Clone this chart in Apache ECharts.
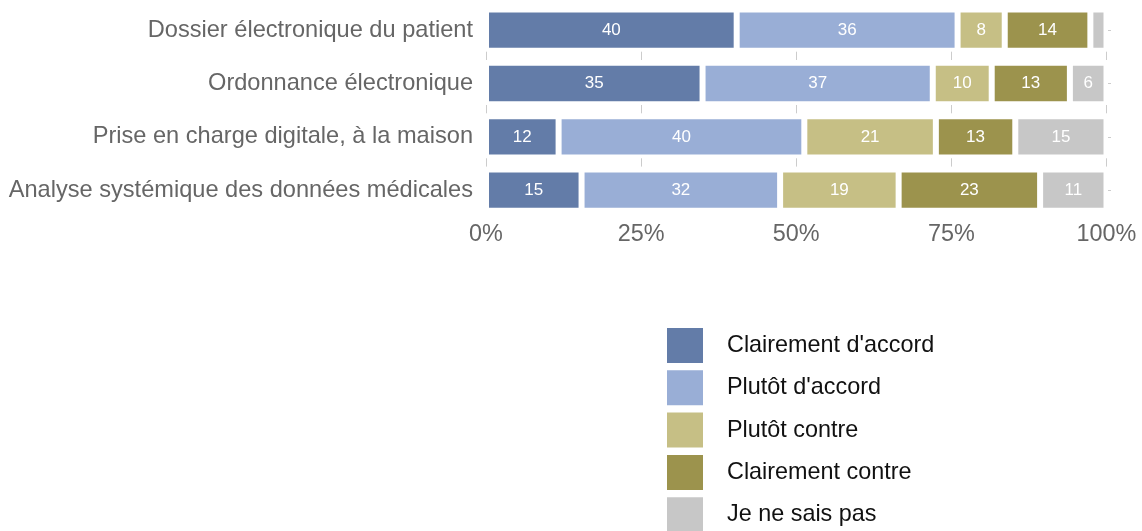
<!DOCTYPE html>
<html>
<head>
<meta charset="utf-8">
<script src="https://cdn.jsdelivr.net/npm/echarts@6/dist/echarts.min.js"></script>
<style>
  html, body { margin: 0; padding: 0; background: #fff; }
  #chart { width: 1142px; height: 531px; }
</style>
</head>
<body>
<div id="chart"></div>
<script>
const categories = [
  "Dossier électronique du patient",
  "Ordonnance électronique",
  "Prise en charge digitale, à la maison",
  "Analyse systémique des données médicales",
];
const seriesNames = [
  "Clairement d'accord",
  "Plutôt d'accord",
  "Plutôt contre",
  "Clairement contre",
  "Je ne sais pas",
];
// parts en % (une valeur par catégorie)
const clairementAccord = [40.4, 34.9, 11.7, 15.4];
const plutotAccord = [35.6, 37.1, 39.6, 32.0];
const plutotContre = [7.6, 9.5, 21.2, 19.1];
const clairementContre = [13.8, 12.6, 12.8, 22.8];
const neSaisPas = [2.6, 5.9, 14.7, 10.7];
const xTicks = [0, 25, 50, 75, 100];

const colors = ["#637ca8", "#99aed6", "#c6bf85", "#9c934d", "#c7c7c7"];
const font = "'Liberation Sans', Arial, Helvetica, sans-serif";
const values = [clairementAccord, plutotAccord, plutotContre, clairementContre, neSaisPas];

const chart = echarts.init(document.getElementById("chart"));

chart.setOption({
  backgroundColor: "#fff",
  animation: false,
  textStyle: { fontFamily: font },
  grid: { left: 486, right: 35.5, top: 3.5, bottom: 314.2, containLabel: false },
  xAxis: {
    type: "value",
    min: 0,
    max: 100,
    interval: 25,
    axisLine: { show: false },
    axisTick: { show: false },
    axisLabel: {
      color: "#666",
      fontSize: 23.4,
      margin: 6,
      fontFamily: font,
      formatter: (v) => (xTicks.includes(v) ? v + "%" : ""),
    },
    // petits traits gris visibles seulement entre les barres
    splitLine: {
      lineStyle: {
        color: "#cccccc",
        width: 1,
        type: [0, 48.2, 8.3, 45, 8.3, 45, 8.3, 400],
      },
    },
  },
  yAxis: [
    {
      type: "category",
      data: categories,
      inverse: true,
      axisLine: { show: false },
      axisTick: { show: false },
      axisLabel: { color: "#666", fontSize: 23.6, margin: 13, fontFamily: font },
    },
    {
      type: "category",
      data: categories,
      inverse: true,
      position: "right",
      offset: 1.5,
      axisLine: { show: false },
      axisLabel: { show: false },
      axisTick: { show: true, alignWithLabel: true, length: 3, lineStyle: { color: "#cccccc" } },
    },
  ],
  legend: {
    orient: "vertical",
    left: 667,
    top: 328,
    height: 300,
    padding: 0,
    itemWidth: 36,
    itemHeight: 35,
    itemGap: 7.3,
    icon: "rect",
    itemStyle: { borderWidth: 0 },
    textStyle: { color: "#111", fontSize: 23.4, fontFamily: font, padding: [0, 0, 0, 19] },
    data: seriesNames,
  },
  series: seriesNames.map((name, i) => ({
    name,
    type: "bar",
    stack: "total",
    yAxisIndex: 0,
    barWidth: "77.5%",
    data: values[i],
    itemStyle: { color: colors[i], borderColor: "#fff", borderWidth: 3 },
    label: {
      show: true,
      position: "inside",
      color: "#fff",
      fontSize: 17,
      fontFamily: font,
      formatter: (p) => (p.value < 4 ? "" : String(Math.round(p.value))),
    },
  })),
});
</script>
</body>
</html>
